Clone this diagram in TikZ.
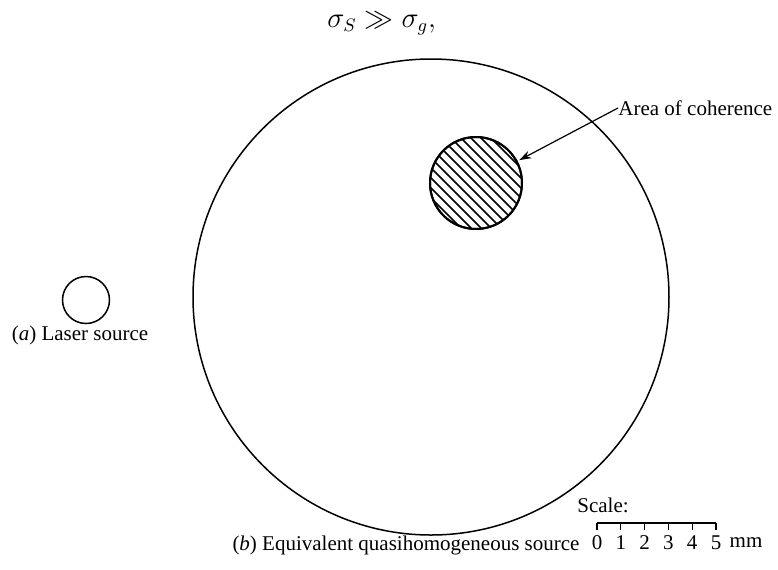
\documentclass[tikz,border=0pt]{standalone}
\usepackage{fontspec}
\setmainfont{Liberation Serif}
\usetikzlibrary{arrows.meta,calc}
\begin{document}
\begin{tikzpicture}[x=0.5pt,y=-0.5pt,
  txt/.style={font=\fontsize{10.5}{12}\selectfont, inner sep=0pt},
  ring/.style={circle, draw, inner sep=0pt},
  hatch/.style={line width=0.8pt},
  scalebar/.style={line width=0.6pt}]
\useasboundingbox (0,0) rectangle (778,569);
% formula
\node[anchor=base west, inner sep=0pt, font=\fontsize{13.5}{15}\selectfont] (formula) at (327,27) {$\sigma_S \gg \sigma_g,$};
% big circle
\node[ring, line width=0.75pt, minimum size=238pt] (big) at (431,297) {};
% coherence circle
\node[ring, line width=1pt, minimum size=46pt] (coh) at (476,183) {};
\begin{scope}
  \clip (476,183) circle (46);
  \foreach \k in {-8,...,8}
    \draw[hatch] (476+\k*10-70,183-70) -- ++(140,140);
\end{scope}
\node[ring, line width=1pt, minimum size=46pt] at (coh.center) {};
% label + arrow
\node[txt, anchor=west] (area) at (618,108) {Area of coherence};
\draw[line width=0.6pt, -{Stealth[length=6pt,width=4pt]}, shorten >=1pt] (area.west) -- (coh);
% laser
\node[ring, line width=0.75pt, minimum size=23.5pt] (laser) at (86,300) {};
\node[txt] (lab a) at (80,335) {(\textit{a}) Laser source};
% label b
\node[txt] (lab b) at (406,545) {(\textit{b}) Equivalent quasihomogeneous source};
% scale
\node[txt] (scale) at (603,505) {Scale:};
\coordinate (s0) at (597,523);
\coordinate (s5) at (716,523);
\draw[scalebar] (s0) -- (s5);
\foreach \i in {0,...,5}{
  \draw[scalebar] ($(s0)!\i/5!(s5)$) -- ++(0,7);
  \node[txt] (n\i) at ($(s0)!\i/5!(s5)+(0,20)$) {\i};
}
\node[txt] (mm) at (746,543) {mm};
\end{tikzpicture}
\end{document}
